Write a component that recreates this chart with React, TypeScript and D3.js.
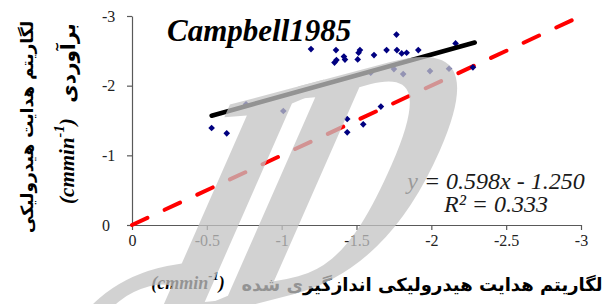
import * as d3 from "d3";
import { useEffect, useRef } from "react";

const measured = [
  -0.532, -0.633, -1.011, -0.762, -1.438, -1.438, -1.545, -1.663, -1.196, -1.363,
  -1.353, -1.366, -1.416, -1.423, -1.508, -1.514, -1.523, -1.617, -1.701, -1.767,
  -1.77, -1.802, -1.835, -1.913, -1.75, -1.812, -1.991, -2.118, -2.162, -2.278, -1.595,
];
const estimated = [
  -1.392, -1.316, -1.636, -1.732, -1.521, -1.33, -1.445, -1.7, -2.525, -2.511,
  -2.331, -2.367, -2.417, -2.374, -2.377, -2.472, -2.511, -2.439, -2.511, -2.733,
  -2.511, -2.463, -2.472, -2.511, -2.238, -2.166, -2.209, -2.243, -2.607, -2.263, -2.185,
];

const xTicks = [0, -0.5, -1, -1.5, -2, -2.5, -3];
const yTicks = [0, -1, -2, -3];
const slope = 0.598;
const intercept = -1.25;
const rSquared = 0.333;
const fitRange = [-0.532, -2.29];
const oneToOne = [0, -3];

const serif = "'Liberation Serif', 'Times New Roman', serif";
const persian = "'DejaVu Sans', sans-serif";

export default function App() {
  const ref = useRef<SVGSVGElement | null>(null);

  useEffect(() => {
    document.body.style.margin = "0";
    if (!ref.current) return;
    const svg = d3.select(ref.current);
    svg.selectAll("*").remove();

    const x = d3.scaleLinear().domain([0, -3]).range([132, 581]);
    const y = d3.scaleLinear().domain([0, -3]).range([225, 16]);
    const axisColor = "#595959";

    // x axis
    const gx = svg
      .append("g")
      .attr("transform", `translate(0,${y(0)})`)
      .call(
        d3
          .axisBottom(x)
          .tickValues(xTicks)
          .tickSize(5)
          .tickSizeOuter(0)
          .tickFormat((d) => `${d}`)
      );
    gx.select(".domain").attr("stroke", axisColor).attr("stroke-width", 1.2);
    gx.selectAll(".tick line").attr("stroke", axisColor).attr("stroke-width", 1.2);
    gx.selectAll(".tick text")
      .attr("y", 10)
      .attr("dy", "0.71em")
      .style("font-family", serif)
      .style("font-size", "16px")
      .attr("fill", "#222");

    // y axis
    const gy = svg
      .append("g")
      .attr("transform", `translate(${x(0)},0)`)
      .call(
        d3
          .axisLeft(y)
          .tickValues(yTicks)
          .tickSize(5)
          .tickSizeOuter(0)
          .tickFormat((d) => `${d}`)
      );
    gy.select(".domain").attr("stroke", axisColor).attr("stroke-width", 1.2);
    gy.selectAll(".tick line").attr("stroke", axisColor).attr("stroke-width", 1.2);
    gy.selectAll(".tick text")
      .attr("x", -30)
      .attr("text-anchor", "start")
      .style("font-family", serif)
      .style("font-size", "16px")
      .attr("fill", "#222");

    // 1:1 line
    const line = d3
      .line<number>()
      .x((d) => x(d))
      .y((d) => y(d));
    svg
      .append("path")
      .datum(oneToOne)
      .attr("d", line)
      .attr("fill", "none")
      .attr("stroke", "#ff0000")
      .attr("stroke-width", 4)
      .attr("stroke-dasharray", "17 19")
      .attr("stroke-linecap", "round");

    // points
    const pts = measured.map((m, i) => [m, estimated[i]]);
    svg
      .append("g")
      .selectAll("path")
      .data(pts)
      .join("path")
      .attr("d", d3.symbol(d3.symbolSquare, 22)())
      .attr("transform", (d) => `translate(${x(d[0])},${y(d[1])}) rotate(45)`)
      .attr("fill", "#000080");

    // trend line
    const fit = d3
      .line<number>()
      .x((d) => x(d))
      .y((d) => y(slope * d + intercept));
    svg
      .append("path")
      .datum(fitRange)
      .attr("d", fit)
      .attr("fill", "none")
      .attr("stroke", "#000")
      .attr("stroke-width", 4.5)
      .attr("stroke-linecap", "round");

    // title
    svg
      .append("text")
      .attr("x", 167)
      .attr("y", 41)
      .style("font-family", serif)
      .style("font-size", "31px")
      .style("font-weight", "bold")
      .style("font-style", "italic")
      .text("Campbell1985");

    // equation
    const eq = svg
      .append("g")
      .style("font-family", serif)
      .style("font-size", "24px")
      .style("font-style", "italic")
      .attr("fill", "#1a1a1a")
      .attr("text-anchor", "middle");
    eq.append("text")
      .attr("x", 496)
      .attr("y", 189)
      .text(`y = ${slope.toFixed(3)}x - ${Math.abs(intercept).toFixed(3)}`);
    eq.append("text").attr("x", 496).attr("y", 212).text(`R² = ${rSquared.toFixed(3)}`);

    const unit = (g: d3.Selection<SVGGElement, unknown, null, undefined>, size: number) => {
      const t = g
        .append("text")
        .attr("text-anchor", "middle")
        .attr("dominant-baseline", "central")
        .style("font-family", serif)
        .style("font-size", `${size}px`)
        .style("font-weight", "bold")
        .style("font-style", "italic");
      t.append("tspan").text("(cmmin");
      t.append("tspan").attr("baseline-shift", "super").style("font-size", `${size * 0.7}px`).text("-1");
      t.append("tspan").text(")");
    };

    const persianText = (g: d3.Selection<SVGGElement, unknown, null, undefined>, s: string, size: number) =>
      g
        .append("text")
        .attr("text-anchor", "middle")
        .attr("dominant-baseline", "central")
        .style("font-family", persian)
        .style("font-size", `${size}px`)
        .style("font-weight", "bold")
        .text(s);

    // y label
    persianText(svg.append("g").attr("transform", "translate(27,127) rotate(-90)"), "لگاریتم هدایت هیدرولیکی", 17);
    persianText(svg.append("g").attr("transform", "translate(68,63) rotate(-90)"), "برآوردی", 20);
    unit(svg.append("g").attr("transform", "translate(67,161) rotate(-90)"), 21);

    // x label
    persianText(svg.append("g").attr("transform", "translate(422,284)"), "لگاریتم هدایت هیدرولیکی اندازگیری شده", 18);
    unit(svg.append("g").attr("transform", "translate(188,283)"), 18);

    // watermark
    const wm = svg
      .append("text")
      .attr("transform", "matrix(0.977,-0.259,-0.522,1.187,-16.2,375.8)")
      .style("font-family", serif)
      .style("font-size", "300px")
      .style("font-weight", "bold")
      .attr("fill", "#c4c4c4")
      .attr("opacity", 0.75);
    wm.append("tspan").attr("dx", 60).attr("dy", 140).text("S");
    wm.append("tspan").attr("dx", -90).attr("dy", -140).text("I");
    wm.append("tspan").attr("dx", -42).text("D");
  }, []);

  return <svg ref={ref} width={606} height={304} style={{ display: "block" }} />;
}
